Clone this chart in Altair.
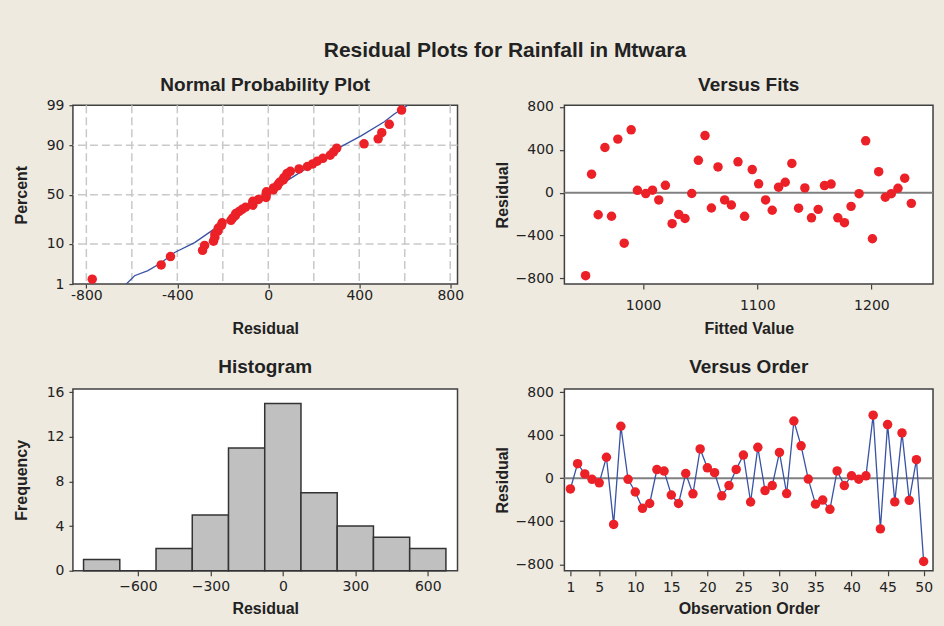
import altair as alt
import pandas as pd
from statistics import NormalDist

# ---------------- values ----------------
observation = list(range(1, 51))
residual = [-100, 135, 40, -10, -43, 195, -430, 483, -10, -128,
            -280, -235, 80, 66, -156, -235, 44, -145, 272, 97,
            51, -164, -68, 82, 215, -221, 287, -115, -68, 240,
            -143, 532, 301, -8, -241, -203, -289, 68, -68, 23,
            -9, 22, 586, -471, 499, -220, 421, -206, 172, -774]
fitted = [1235.0, 1229.2, 1223.3, 1217.5, 1212.2, 1206.4, 1200.9, 1195.0, 1189.2, 1182.2,
          1176.4, 1170.6, 1164.7, 1158.9, 1153.4, 1147.5, 1141.7, 1136.2, 1130.3, 1124.5,
          1118.7, 1113.1, 1107.3, 1101.2, 1095.6, 1088.9, 1083.1, 1077.3, 1071.4, 1065.6,
          1059.8, 1054.2, 1048.4, 1042.6, 1036.7, 1031.2, 1025.4, 1019.5, 1013.7, 1008.2,
          1002.3, 995.0, 989.5, 983.4, 977.8, 972.3, 966.5, 960.6, 954.8, 949.6]

hist_bin_start = [-825, -675, -525, -375, -225, -75, 75, 225, 375, 525]
hist_bin_end = [-675, -525, -375, -225, -75, 75, 225, 375, 525, 675]
hist_count = [1, 0, 2, 5, 11, 15, 7, 4, 3, 2]

# blue reference line of the normal probability plot
fit_line_residual = [-624, -588, -529, -471, -412, -324, -251, -149, -2, 93, 320, 408, 510, 554, 613]
fit_line_percent = [1.0, 1.74, 2.4, 3.8, 6.6, 10.6, 17.1, 30.0, 51.6, 65.7, 89.4, 93.7, 97.1, 98.2, 99.0]

# tick labels
pct_ticks = [1, 10, 50, 90, 99]
np_y_grid = [10, 50, 90]
np_x_ticks = [-800, -400, 0, 400, 800]
np_x_grid = [-800, -600, -400, -200, 0, 200, 400, 600, 800]
fits_x_ticks = [1000, 1100, 1200]
resid_ticks = [-800, -400, 0, 400, 800]
hist_x_ticks = [-600, -300, 0, 300, 600]
hist_y_ticks = [0, 4, 8, 12, 16]
order_ticks = [1, 5, 10, 15, 20, 25, 30, 35, 40, 45, 50]

# ---------------- styling ----------------
BG = "#EEEAE0"
RED = "#EC2027"
BLUE = "#3953A4"
INK = "#222222"
FRAME = "#404040"
PT = 90

nd = NormalDist()
z_lo, z_hi = nd.inv_cdf(0.01), nd.inv_cdf(0.99)
pct_z = [nd.inv_cdf(p / 100) for p in pct_ticks]
N = len(residual)

df = pd.DataFrame({"order": observation, "residual": residual, "fitted": fitted})
hist_df = pd.DataFrame({"start": hist_bin_start, "end": hist_bin_end, "count": hist_count})
line_df = pd.DataFrame({"residual": fit_line_residual, "pct": fit_line_percent})

# ---------------- Normal probability plot ----------------
xs_np = alt.Scale(domain=[-859, 832], nice=False, zero=False)
ys_np = alt.Scale(domain=[z_lo, z_hi], nice=False, zero=False)

np_xaxis = alt.Axis(values=np_x_ticks, title="Residual", tickSize=4, labelPadding=0,
                    labelExpr="datum.value < 0 ? '-' + format(-datum.value, 'd') : format(datum.value, 'd')",
                    minExtent=20, maxExtent=20, titlePadding=17)
np_yaxis = alt.Axis(values=pct_z, title="Percent", tickSize=4, labelPadding=5,
                    labelExpr="format(round(cumulativeNormal(datum.value) * 100), 'd')",
                    minExtent=30, maxExtent=30, titlePadding=13)

grid_v = alt.Chart(pd.DataFrame({"g": np_x_grid})).mark_rule(
    color="#C9C9C9", strokeWidth=1.5, strokeDash=[8, 4]
).encode(x=alt.X("g:Q", scale=xs_np, axis=np_xaxis))

grid_h = alt.Chart(pd.DataFrame({"p": np_y_grid})).transform_calculate(
    z="quantileNormal(datum.p / 100)"
).mark_rule(color="#C9C9C9", strokeWidth=1.5, strokeDash=[8, 4]).encode(
    y=alt.Y("z:Q", scale=ys_np, axis=np_yaxis)
)

np_line = alt.Chart(line_df).transform_calculate(
    z="quantileNormal(datum.pct / 100)"
).mark_line(color=BLUE, strokeWidth=1.3, clip=True).encode(
    x=alt.X("residual:Q", scale=xs_np),
    y=alt.Y("z:Q", scale=ys_np),
    order=alt.Order("residual:Q"),
)

np_pts = alt.Chart(df).transform_window(
    rank="row_number()", sort=[alt.SortField("residual")]
).transform_calculate(
    z=f"quantileNormal((datum.rank - 0.3) / ({N} + 0.4))"
).mark_circle(color=RED, size=PT, opacity=1).encode(
    x=alt.X("residual:Q", scale=xs_np),
    y=alt.Y("z:Q", scale=ys_np),
)

np_chart = alt.layer(grid_v, grid_h, np_line, np_pts).properties(
    width=385, height=179,
    title=alt.TitleParams("Normal Probability Plot", anchor="middle", frame="group", offset=3),
)

# ---------------- Versus fits ----------------
xs_vf = alt.Scale(domain=[931, 1254], nice=False, zero=False)
ys_vf = alt.Scale(domain=[-852, 815], nice=False, zero=False)

vf_zero = alt.Chart(df).mark_rule(color="#808080", strokeWidth=2).encode(
    y=alt.Y("z:Q", scale=ys_vf,
            axis=alt.Axis(values=resid_ticks, title="Residual", tickSize=5, labelPadding=6,
                          minExtent=50, maxExtent=50, titlePadding=4))
).transform_calculate(z="0").transform_filter("datum.order == 1")

vf_pts = alt.Chart(df).mark_circle(color=RED, size=PT, opacity=1).encode(
    x=alt.X("fitted:Q", scale=xs_vf,
            axis=alt.Axis(values=fits_x_ticks, format="d", title="Fitted Value", tickSize=5,
                          labelPadding=9, minExtent=30, maxExtent=30, titlePadding=7)),
    y=alt.Y("residual:Q", scale=ys_vf),
)

vf_chart = alt.layer(vf_zero, vf_pts).properties(
    width=369, height=179,
    title=alt.TitleParams("Versus Fits", anchor="middle", frame="group", offset=5),
)

# ---------------- Histogram ----------------
xs_h = alt.Scale(domain=[-869, 723], nice=False, zero=False)
ys_h = alt.Scale(domain=[0, 16.3], nice=False, zero=False)

hist_chart = alt.Chart(hist_df).mark_rect(
    fill="#C0C0C0", stroke="#333333", strokeWidth=1.5
).encode(
    x=alt.X("start:Q", scale=xs_h,
            axis=alt.Axis(values=hist_x_ticks, title="Residual", tickSize=5, labelPadding=4,
                          minExtent=20, maxExtent=20, titlePadding=10)),
    x2="end:Q",
    y=alt.Y("count:Q", scale=ys_h,
            axis=alt.Axis(values=hist_y_ticks, title="Frequency", tickSize=4, labelPadding=5,
                          minExtent=30, maxExtent=30, titlePadding=13)),
    y2=alt.datum(0),
).properties(
    width=385, height=182,
    title=alt.TitleParams("Histogram", anchor="middle", frame="group", offset=8),
)

# ---------------- Versus order ----------------
xs_vo = alt.Scale(domain=[0.17, 51.3], nice=False, zero=False)
ys_vo = alt.Scale(domain=[-860, 830], nice=False, zero=False)

vo_xaxis = alt.Axis(values=order_ticks, title="Observation Order", tickSize=5, labelPadding=5,
                    labelOverlap=False, labelSeparation=0,
                    minExtent=20, maxExtent=20, titlePadding=10)

vo_zero = alt.Chart(df).mark_rule(color="#808080", strokeWidth=2).encode(
    y=alt.Y("z:Q", scale=ys_vo,
            axis=alt.Axis(values=resid_ticks, title="Residual", tickSize=5, labelPadding=6,
                          minExtent=50, maxExtent=50, titlePadding=4))
).transform_calculate(z="0").transform_filter("datum.order == 1")

vo_line = alt.Chart(df).mark_line(color=BLUE, strokeWidth=1.3).encode(
    x=alt.X("order:Q", scale=xs_vo, axis=vo_xaxis),
    y=alt.Y("residual:Q", scale=ys_vo),
)
vo_pts = alt.Chart(df).mark_circle(color=RED, size=PT, opacity=1).encode(
    x=alt.X("order:Q", scale=xs_vo, axis=vo_xaxis),
    y=alt.Y("residual:Q", scale=ys_vo),
)

vo_chart = alt.layer(vo_zero, vo_line, vo_pts).properties(
    width=369, height=182,
    title=alt.TitleParams("Versus Order", anchor="middle", frame="group", offset=8),
)

# ---------------- assemble ----------------
chart = alt.concat(
    np_chart, vf_chart, hist_chart, vo_chart,
    columns=2, align="each",
    spacing=alt.RowColnumber(row=19, column=29),
).properties(
    title=alt.TitleParams("Residual Plots for Rainfall in Mtwara", fontSize=21,
                          anchor="middle", dx=31, offset=14),
    padding={"left": 13, "top": 39, "right": 9, "bottom": 9},
    background=BG,
).configure_view(
    stroke=FRAME, strokeWidth=1.5, fill="white"
).configure_axis(
    domain=False, grid=False, tickColor=FRAME, tickWidth=1.2,
    labelFont="DejaVu Sans", labelFontSize=14, labelColor=INK,
    titleFont="Liberation Sans", titleFontSize=16, titleFontWeight="bold", titleColor=INK,
).configure_axisX(
    labelOverlap=False
).configure_title(
    font="Liberation Sans", fontSize=19, fontWeight="bold", color=INK
)

chart.save("out.html", embed_options={"renderer": "svg", "actions": False})
